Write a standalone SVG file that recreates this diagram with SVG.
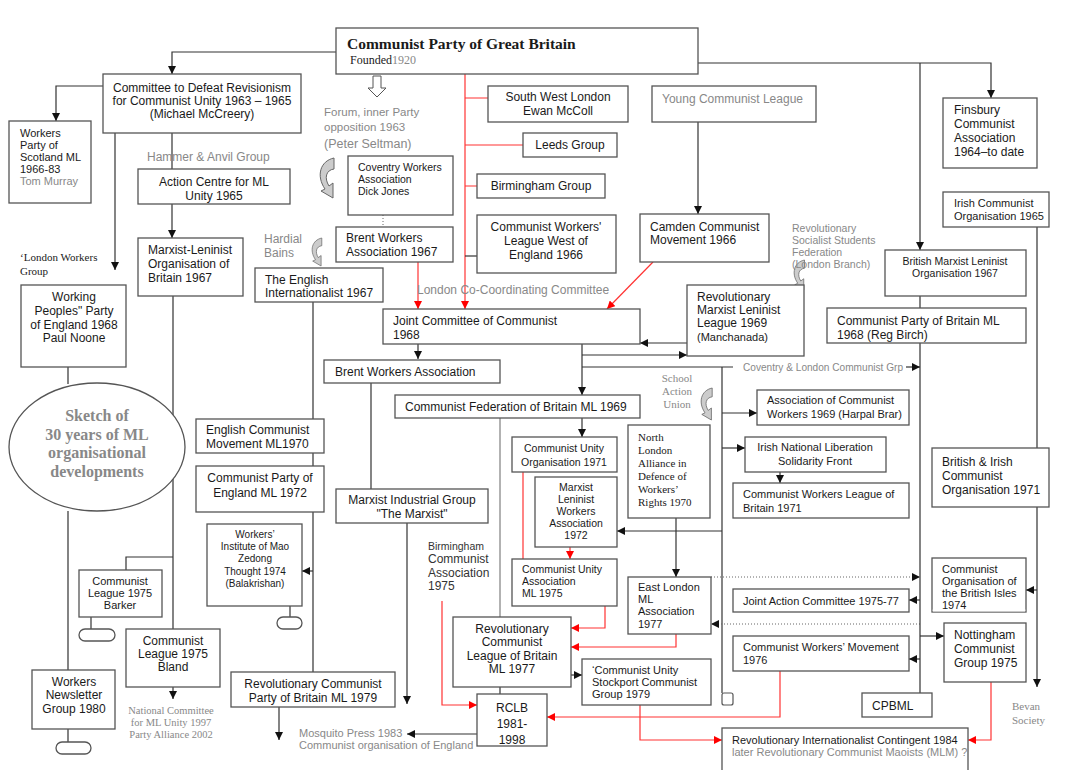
<svg xmlns="http://www.w3.org/2000/svg" width="1090" height="770" viewBox="0 0 1090 770">
<style>
.b{fill:#fff;stroke:#555;stroke-width:1.3}
text{font-family:"Liberation Sans",Arial,sans-serif;font-size:12px;fill:#1a1a1a}
.g{fill:#888}
.s{font-family:"Liberation Serif","Times New Roman",serif}
.m{text-anchor:middle}
.c{stroke:#333;stroke-width:1.2;fill:none}
.r{stroke:#f33;stroke-width:1.2;fill:none}
.d{stroke:#666;stroke-width:1;fill:none;stroke-dasharray:1 2}
.ic{fill:#ccc;stroke:#666;stroke-width:1}
</style>
<defs>
<marker id="a" viewBox="0 0 8 8" refX="8" refY="4" markerWidth="8" markerHeight="8" markerUnits="userSpaceOnUse" orient="auto"><path d="M0,0 L8,4 L0,8 z" fill="#111"/></marker>
<marker id="ar" viewBox="0 0 8 8" refX="8" refY="4" markerWidth="8" markerHeight="8" markerUnits="userSpaceOnUse" orient="auto"><path d="M0,0 L8,4 L0,8 z" fill="#f00"/></marker>
<path id="curl" d="M14,0 L14,11 C6,12 4,20 9,28 L13,25 L13,40 L1,33 L5,31 C-4,18 0,3 14,0 Z"/>
</defs>

<g id="connectors">
<path class="c" d="M336,52 H172 V74" marker-end="url(#a)"/>
<path class="c" d="M698,63 H991 V98" marker-end="url(#a)"/>
<path class="c" d="M920,63 V250" marker-end="url(#a)"/>
<path class="c" d="M103,86 H56 V121" marker-end="url(#a)"/>
<path class="c" d="M115,133 V270" marker-end="url(#a)"/>
<path class="c" d="M172,133 V169"/>
<path class="c" d="M172,204 V238" marker-end="url(#a)"/>
<path class="c" d="M173,296 V629 M173,557 H126 V570"/>
<path class="c" d="M173,687 V699" marker-end="url(#a)"/>
<path class="c" d="M91,617 V629"/>
<rect class="b" x="79" y="629" width="36" height="12" rx="6"/>
<path class="c" d="M68,367 V384 M68,511 V670 M68,729 V742"/>
<rect class="b" x="56" y="742" width="35" height="12" rx="6"/>
<path class="c" d="M313,302 V419 M313,453 V466 M313,512 V672"/>
<path class="c" d="M313,571 H302" marker-end="url(#a)"/>
<path class="c" d="M290,606 V617"/>
<rect class="b" x="277" y="617" width="25" height="12" rx="6"/>
<path class="c" d="M279,707 V740" marker-end="url(#a)"/>
<path class="d" d="M383,215 V227"/>
<path class="c" d="M418,344 V359" marker-end="url(#a)"/>
<path class="c" d="M371,383 V489"/>
<path class="c" d="M407,523 V704" marker-end="url(#a)"/>
<path class="c" d="M698,122 V214" marker-end="url(#a)"/>
<path class="c" d="M687,343 H640" marker-end="url(#a)"/>
<path class="c" d="M582,344 V395" marker-end="url(#a)"/>
<path class="c" d="M582,355 H687" marker-end="url(#a)"/>
<path class="c" d="M582,367 H733"/>
<path class="c" d="M906,367 H920" marker-end="url(#a)"/>
<path class="c" d="M722,367 V693"/>
<rect x="722" y="693" width="11" height="12" rx="2" fill="#fff" stroke="#555" stroke-width="1.2"/>
<path class="c" d="M722,413 H757" marker-end="url(#a)"/>
<path class="c" d="M722,448 H745" marker-end="url(#a)"/>
<path class="c" d="M722,531 H617" marker-end="url(#a)"/>
<path class="c" d="M780,472 V483" marker-end="url(#a)"/>
<path class="c" d="M582,418 V437" marker-end="url(#a)"/>
<path d="M500,418 V617" stroke="#999" stroke-width="1.5" fill="none"/>
<path class="c" d="M676,518 V577" marker-end="url(#a)"/>
<path class="c" d="M500,687 V694"/>
<path class="c" d="M571,675 H582" marker-end="url(#a)"/>
<path class="c" d="M477,734 H407" marker-end="url(#a)"/>
<path class="d" d="M711,577 H920" marker-end="url(#a)"/>
<path class="d" d="M920,624 H711" marker-end="url(#a)"/>
<path class="c" d="M920,600 H909" marker-end="url(#a)"/>
<path class="c" d="M920,659 H909" marker-end="url(#a)"/>
<path class="c" d="M920,636 H944" marker-end="url(#a)"/>
<path class="c" d="M920,296 V308 M920,343 V693"/>
<path class="c" d="M1037,227 V448 M1037,507 V687" marker-end="url(#a)"/>
<path class="c" d="M1037,590 H1026" marker-end="url(#a)"/>
<path class="r" d="M465,74 V309" marker-end="url(#ar)"/>
<path class="r" d="M465,98 H488 M465,145 H523 M465,186 H477"/>
<path class="c" d="M465,256 H477"/>
<path class="r" d="M418,262 V309" marker-end="url(#ar)"/>
<path class="r" d="M653,262 L607,309" marker-end="url(#ar)"/>
<path class="r" d="M523,472 V559"/>
<path class="r" d="M570,547 V559" marker-end="url(#ar)"/>
<path class="r" d="M605,606 V628 H571" marker-end="url(#ar)"/>
<path class="r" d="M676,634 V647 H571" marker-end="url(#ar)"/>
<path class="r" d="M442,601 V705 H477" marker-end="url(#ar)"/>
<path class="r" d="M780,671 V717 H547" marker-end="url(#ar)"/>
<path class="r" d="M640,705 V740 H722" marker-end="url(#ar)"/>
<path class="r" d="M991,682 V740 H968" marker-end="url(#ar)"/>
<path d="M373,76 H381 V88 H386 L377,97 L368,88 H373 Z" fill="#fff" stroke="#555" stroke-width="1"/>
<use href="#curl" class="ic" x="320" y="158"/>
<use href="#curl" class="ic" transform="translate(312,238) scale(0.7)"/>
<use href="#curl" class="ic" transform="translate(794,260) scale(0.75)"/>
<use href="#curl" class="ic" transform="translate(701,388) scale(0.8)"/>
</g>

<g id="cpgb"><rect class="b" x="336" y="28" width="362" height="46"/>
<text x="347" y="49" class="s" style="font-size:15.5px;font-weight:bold">Communist Party of Great Britain</text>
<text x="350" y="64" class="s" style="font-size:12px">Founded<tspan class="g">1920</tspan></text></g>

<g id="cdr"><rect class="b" x="103" y="74" width="198" height="59"/>
<text class="m" x="202" y="92">Committee to Defeat Revisionism</text>
<text class="m" x="202" y="105">for Communist Unity 1963 – 1965</text>
<text class="m" x="202" y="118">(Michael McCreery)</text></g>

<g id="wps"><rect class="b" x="9" y="121" width="82" height="82"/>
<text x="20" y="137" style="font-size:11px">Workers</text>
<text x="20" y="149" style="font-size:11px">Party of</text>
<text x="20" y="161" style="font-size:11px">Scotland ML</text>
<text x="20" y="173" style="font-size:11px">1966-83</text>
<text x="20" y="185" class="g" style="font-size:11px">Tom Murray</text></g>

<g id="hammer"><text x="147" y="161" class="g">Hammer &amp; Anvil Group</text></g>

<g id="acml"><rect class="b" x="138" y="169" width="152" height="35"/>
<text class="m" x="214" y="186">Action Centre for ML</text>
<text class="m" x="214" y="200">Unity 1965</text></g>

<g id="mlob"><rect class="b" x="138" y="238" width="105" height="58"/>
<text x="148" y="254">Marxist-Leninist</text>
<text x="148" y="268">Organisation of</text>
<text x="148" y="282">Britain 1967</text></g>

<g id="lwg"><text x="20" y="261" class="s" style="font-size:11px">‘London Workers</text>
<text x="20" y="275" class="s" style="font-size:11px">Group</text></g>

<g id="wpp"><rect class="b" x="21" y="285" width="105" height="82"/>
<text class="m" x="74" y="301">Working</text>
<text class="m" x="74" y="315">Peoples" Party</text>
<text class="m" x="74" y="329">of England 1968</text>
<text class="m" x="74" y="342">Paul Noone</text></g>

<g id="sketch"><ellipse cx="97" cy="447" rx="88" ry="64" fill="#fff" stroke="#555" stroke-width="1.3"/>
<text class="s m g" x="97" y="421" style="font-size:16px;font-weight:bold">Sketch of</text>
<text class="s m g" x="97" y="440" style="font-size:16px;font-weight:bold">30 years of ML</text>
<text class="s m g" x="97" y="458" style="font-size:16px;font-weight:bold">organisational</text>
<text class="s m g" x="97" y="477" style="font-size:16px;font-weight:bold">developments</text></g>

<g id="forum"><text x="324" y="116" class="g" style="font-size:11.5px">Forum, inner Party</text>
<text x="324" y="131" class="g" style="font-size:11.5px">opposition 1963</text>
<text x="324" y="148" class="g" style="font-size:12.5px">(Peter Seltman)</text></g>

<g id="hardial"><text x="264" y="243" class="g" style="font-size:12px">Hardial</text>
<text x="264" y="257" class="g" style="font-size:12px">Bains</text></g>

<g id="cwa"><rect class="b" x="348" y="156" width="105" height="59"/>
<text x="358" y="171" style="font-size:10.5px">Coventry Workers</text>
<text x="358" y="183" style="font-size:10.5px">Association</text>
<text x="358" y="195" style="font-size:10.5px">Dick Jones</text></g>

<g id="bwa67"><rect class="b" x="336" y="227" width="117" height="35"/>
<text x="346" y="242">Brent Workers</text>
<text x="346" y="256">Association 1967</text></g>

<g id="tei"><rect class="b" x="255" y="268" width="128" height="34"/>
<text x="265" y="284">The English</text>
<text x="265" y="297">Internationalist 1967</text></g>

<g id="swl"><rect class="b" x="488" y="86" width="140" height="36"/>
<text class="m" x="558" y="101">South West London</text>
<text class="m" x="558" y="115">Ewan McColl</text></g>

<g id="leeds"><rect class="b" x="523" y="133" width="94" height="24"/>
<text class="m" x="570" y="149">Leeds Group</text></g>

<g id="bham"><rect class="b" x="477" y="174" width="128" height="24"/>
<text class="m" x="541" y="190">Birmingham Group</text></g>

<g id="cwlwe"><rect class="b" x="477" y="215" width="139" height="58"/>
<text class="m" x="546" y="231">Communist Workers'</text>
<text class="m" x="546" y="245">League West of</text>
<text class="m" x="546" y="259">England 1966</text></g>

<g id="ycl"><rect class="b" x="652" y="86" width="164" height="36"/>
<text x="662" y="103" class="g">Young Communist League</text></g>

<g id="camden"><rect class="b" x="640" y="214" width="129" height="48"/>
<text x="650" y="231">Camden Communist</text>
<text x="650" y="244">Movement 1966</text></g>

<g id="rssf"><text x="792" y="232" class="g" style="font-size:10.5px">Revolutionary</text>
<text x="792" y="244" class="g" style="font-size:10.5px">Socialist Students</text>
<text x="792" y="256" class="g" style="font-size:10.5px">Federation</text>
<text x="792" y="268" class="g" style="font-size:10.5px">(London Branch)</text></g>

<g id="lcc"><text x="417" y="294" class="g">London Co-Coordinating Committee</text></g>

<g id="finsbury"><rect class="b" x="943" y="98" width="94" height="70"/>
<text x="954" y="114">Finsbury</text>
<text x="954" y="128">Communist</text>
<text x="954" y="142">Association</text>
<text x="954" y="156">1964–to date</text></g>

<g id="ico"><rect class="b" x="943" y="192" width="106" height="35"/>
<text x="954" y="207" style="font-size:11px">Irish Communist</text>
<text x="954" y="220" style="font-size:11px">Organisation 1965</text></g>

<g id="bmlo"><rect class="b" x="885" y="250" width="141" height="46"/>
<text class="m" x="955" y="265" style="font-size:10.5px">British Marxist Leninist</text>
<text class="m" x="955" y="277" style="font-size:10.5px">Organisation 1967</text></g>

<g id="cpbml68"><rect class="b" x="827" y="308" width="199" height="35"/>
<text x="837" y="325">Communist Party of Britain ML</text>
<text x="837" y="339">1968 (Reg Birch)</text></g>

<g id="rmll"><rect class="b" x="687" y="285" width="117" height="71"/>
<text x="697" y="301">Revolutionary</text>
<text x="697" y="314">Marxist Leninist</text>
<text x="697" y="327">League 1969</text>
<text x="697" y="341" style="font-size:11px">(Manchanada)</text></g>

<g id="jcc"><rect class="b" x="383" y="309" width="257" height="35"/>
<text x="393" y="325">Joint Committee of Communist</text>
<text x="393" y="339">1968</text></g>

<g id="clcg"><text x="743" y="371" class="g" style="font-size:11px" textLength="160" lengthAdjust="spacingAndGlyphs">Coventry &amp; London Communist Grp</text></g>

<g id="bwa"><rect class="b" x="324" y="360" width="176" height="23"/>
<text x="335" y="376">Brent Workers  Association</text></g>

<g id="cfb"><rect class="b" x="395" y="395" width="245" height="23"/>
<text x="405" y="411">Communist Federation of Britain ML 1969</text></g>

<g id="sau"><text x="677" y="382" class="s m g" style="font-size:11px">School</text>
<text x="677" y="395" class="s m g" style="font-size:11px">Action</text>
<text x="677" y="408" class="s m g" style="font-size:11px">Union</text></g>

<g id="acw"><rect class="b" x="757" y="390" width="152" height="35"/>
<text x="767" y="404" style="font-size:11px">Association of Communist</text>
<text x="767" y="418" style="font-size:11px">Workers 1969 (Harpal Brar)</text></g>

<g id="inlsf"><rect class="b" x="745" y="437" width="141" height="35"/>
<text class="m" x="815" y="451" style="font-size:11px">Irish National Liberation</text>
<text class="m" x="815" y="465" style="font-size:11px">Solidarity Front</text></g>

<g id="cwlb"><rect class="b" x="733" y="483" width="176" height="35"/>
<text x="743" y="498" style="font-size:11px">Communist Workers League of</text>
<text x="743" y="512" style="font-size:11px">Britain 1971</text></g>

<g id="bico"><rect class="b" x="932" y="448" width="117" height="59"/>
<text x="942" y="466">British &amp; Irish</text>
<text x="942" y="480">Communist</text>
<text x="942" y="494">Organisation 1971</text></g>

<g id="nla"><rect class="b" x="628" y="425" width="82" height="93"/>
<text x="638" y="441" class="s" style="font-size:11px">North</text>
<text x="638" y="454" class="s" style="font-size:11px">London</text>
<text x="638" y="467" class="s" style="font-size:11px">Alliance in</text>
<text x="638" y="480" class="s" style="font-size:11px">Defence of</text>
<text x="638" y="493" class="s" style="font-size:11px">Workers’</text>
<text x="638" y="506" class="s" style="font-size:11px">Rights 1970</text></g>

<g id="cuo"><rect class="b" x="512" y="437" width="105" height="35"/>
<text class="m" x="564" y="452" style="font-size:10.5px">Communist Unity</text>
<text class="m" x="564" y="466" style="font-size:10.5px">Organisation 1971</text></g>

<g id="mlwa"><rect class="b" x="535" y="477" width="82" height="70"/>
<text class="m" x="576" y="491" style="font-size:10.5px">Marxist</text>
<text class="m" x="576" y="503" style="font-size:10.5px">Leninist</text>
<text class="m" x="576" y="515" style="font-size:10.5px">Workers</text>
<text class="m" x="576" y="527" style="font-size:10.5px">Association</text>
<text class="m" x="576" y="539" style="font-size:10.5px">1972</text></g>

<g id="ecm"><rect class="b" x="196" y="419" width="128" height="34"/>
<text x="206" y="434">English Communist</text>
<text x="206" y="448">Movement  ML1970</text></g>

<g id="cpe"><rect class="b" x="196" y="466" width="128" height="46"/>
<text class="m" x="260" y="482">Communist Party of</text>
<text class="m" x="260" y="497">England ML 1972</text></g>

<g id="mig"><rect class="b" x="336" y="489" width="152" height="34"/>
<text class="m" x="412" y="504">Marxist Industrial Group</text>
<text class="m" x="412" y="518">"The Marxist"</text></g>

<g id="wimzt"><rect class="b" x="207" y="524" width="95" height="82"/>
<text class="m" x="255" y="538" style="font-size:10px">Workers’</text>
<text class="m" x="255" y="550" style="font-size:10px">Institute of Mao</text>
<text class="m" x="255" y="562" style="font-size:10px">Zedong</text>
<text class="m" x="255" y="575" style="font-size:10px">Thought 1974</text>
<text class="m" x="255" y="587" style="font-size:10px">(Balakrishan)</text></g>

<g id="clbarker"><rect class="b" x="79" y="570" width="83" height="47"/>
<text class="m" x="120" y="585" style="font-size:11px">Communist</text>
<text class="m" x="120" y="597" style="font-size:11px">League 1975</text>
<text class="m" x="120" y="609" style="font-size:11px">Barker</text></g>

<g id="clbland"><rect class="b" x="126" y="629" width="94" height="58"/>
<text class="m" x="173" y="645">Communist</text>
<text class="m" x="173" y="658">League 1975</text>
<text class="m" x="173" y="671">Bland</text></g>

<g id="ncmlu"><text class="s m g" x="171" y="714" style="font-size:10.5px">National Committee</text>
<text class="s m g" x="171" y="726" style="font-size:10.5px">for ML Unity 1997</text>
<text class="s m g" x="171" y="738" style="font-size:10.5px">Party Alliance 2002</text></g>

<g id="wng"><rect class="b" x="32" y="670" width="83" height="59"/>
<text class="m" x="74" y="686">Workers</text>
<text class="m" x="74" y="699">Newsletter</text>
<text class="m" x="74" y="713">Group 1980</text></g>

<g id="rcpb"><rect class="b" x="231" y="672" width="164" height="35"/>
<text class="m" x="313" y="688">Revolutionary Communist</text>
<text class="m" x="313" y="702">Party of Britain ML  1979</text></g>

<g id="bca"><text x="428" y="550" style="font-size:10.5px;fill:#333">Birmingham</text>
<text x="428" y="563" style="fill:#333">Communist</text>
<text x="428" y="577" style="fill:#333">Association</text>
<text x="428" y="590" style="fill:#333">1975</text></g>

<g id="cua"><rect class="b" x="512" y="559" width="105" height="47"/>
<text x="522" y="573" style="font-size:10.5px">Communist Unity</text>
<text x="522" y="585" style="font-size:10.5px">Association</text>
<text x="522" y="597" style="font-size:10.5px"> ML 1975</text></g>

<g id="rclb77"><rect class="b" x="453" y="617" width="118" height="70"/>
<text class="m" x="512" y="633">Revolutionary</text>
<text class="m" x="512" y="646">Communist</text>
<text class="m" x="512" y="660">League of Britain</text>
<text class="m" x="512" y="673">ML 1977</text></g>

<g id="rclb81"><rect class="b" x="477" y="694" width="70" height="52"/>
<text class="m" x="512" y="712">RCLB</text>
<text class="m" x="512" y="728">1981-</text>
<text class="m" x="512" y="744">1998</text></g>

<g id="mosquito"><text x="299" y="737" class="g" style="font-size:11px">Mosquito Press 1983</text>
<text x="299" y="749" class="g" style="font-size:11px">Communist organisation of England</text></g>

<g id="elml"><rect class="b" x="628" y="577" width="83" height="57"/>
<text x="638" y="591" style="font-size:11px">East London</text>
<text x="638" y="603" style="font-size:11px">ML</text>
<text x="638" y="615" style="font-size:11px">Association</text>
<text x="638" y="628" style="font-size:11px">1977</text></g>

<g id="stockport"><rect class="b" x="582" y="659" width="129" height="46"/>
<text x="592" y="674" style="font-size:11px">‘Communist Unity</text>
<text x="592" y="686" style="font-size:11px">Stockport Communist</text>
<text x="592" y="698" style="font-size:11px">Group 1979</text></g>

<g id="jac"><rect class="b" x="733" y="589" width="176" height="23"/>
<text x="743" y="605" style="font-size:11px">Joint Action Committee 1975-77</text></g>

<g id="cwm"><rect class="b" x="733" y="636" width="176" height="35"/>
<text x="743" y="651" style="font-size:11px">Communist Workers’ Movement</text>
<text x="743" y="664" style="font-size:11px">1976</text></g>

<g id="cobi"><rect class="b" x="932" y="558" width="94" height="54"/>
<text x="942" y="573" style="font-size:11px">Communist</text>
<text x="942" y="585" style="font-size:11px">Organisation of</text>
<text x="942" y="597" style="font-size:11px">the British Isles</text>
<text x="942" y="609" style="font-size:11px">1974</text>
<rect x="932.7" y="609.5" width="92.6" height="2" fill="#fff"/></g>

<g id="ncg"><rect class="b" x="944" y="623" width="82" height="59"/>
<text x="954" y="639">Nottingham</text>
<text x="954" y="653">Communist</text>
<text x="954" y="667">Group 1975</text></g>

<g id="cpbml"><rect class="b" x="862" y="693" width="70" height="24"/>
<text x="872" y="710">CPBML</text></g>

<g id="bevan"><text x="1012" y="710" class="s g" style="font-size:11px">Bevan</text>
<text x="1012" y="724" class="s g" style="font-size:11px">Society</text></g>

<g id="ric"><rect class="b" x="722" y="728" width="246" height="50"/>
<text x="732" y="744" style="font-size:11px">Revolutionary Internationalist Contingent 1984</text>
<text x="732" y="756" class="g" style="font-size:11px">later Revolutionary Communist Maoists (MLM) ?</text></g>
</svg>
